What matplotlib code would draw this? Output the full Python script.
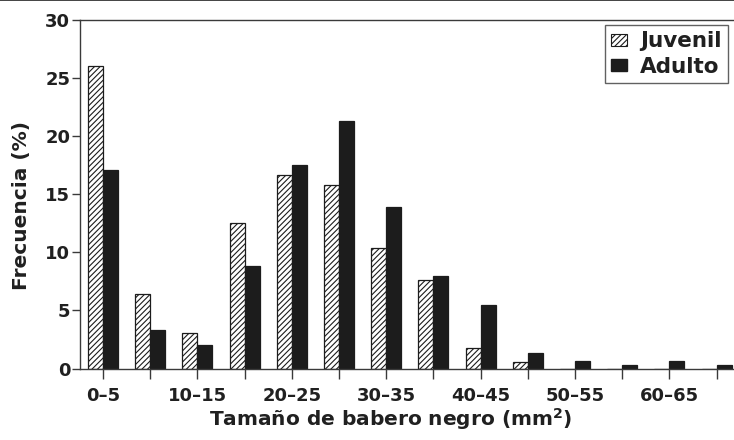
import matplotlib
matplotlib.use("Agg")
import matplotlib.pyplot as plt
from matplotlib.lines import Line2D
from matplotlib.patches import Patch
import numpy as np

plt.rcParams['font.family'] = ['DejaVu Sans']
plt.rcParams['font.weight'] = 'bold'
plt.rcParams['mathtext.default'] = 'bf'
plt.rcParams['hatch.linewidth'] = 0.8

categories = ["0–5", "5–10", "10–15", "15–20", "20–25", "25–30", "30–35",
              "35–40", "40–45", "45–50", "50–55", "55–60", "60–65", "65–70"]
juvenil = [26.0, 6.45, 3.07, 12.5, 16.7, 15.8, 10.4, 7.6, 1.75, 0.55, 0, 0, 0, 0]
adulto = [17.1, 3.33, 2.0, 8.83, 17.5, 21.3, 13.9, 8.0, 5.5, 1.3, 0.65, 0.28, 0.65, 0.28]
yticks = [0, 5, 10, 15, 20, 25, 30]

dark = "#1c1c1c"
axis_col = "#3a3a3a"
text_col = "#202020"
fs_tick = 13
fs_label = 14.5
fs_leg = 15.5

fig = plt.figure(figsize=(7.34, 4.40), dpi=100)
ax = fig.add_axes([80 / 734, 1 - 368.5 / 440, 1 - 80 / 734, (368.5 - 20) / 440])

x = np.arange(len(categories))
w = 0.318
ax.bar(x - w / 2, juvenil, width=w, color="white", edgecolor=dark,
       linewidth=0.9, hatch="//////", label="Juvenil")
ax.bar(x + w / 2, adulto, width=w, color=dark, edgecolor=dark,
       linewidth=0.9, label="Adulto")

ax.set_xlim(-0.487, 13.37)
ax.set_ylim(0, 30)
ax.set_yticks(yticks)
ax.set_xticks(x)
ax.set_xticklabels([c if i % 2 == 0 else "" for i, c in enumerate(categories)])

for s in ("left", "bottom", "top"):
    ax.spines[s].set_color(axis_col)
    ax.spines[s].set_linewidth(1.0)
ax.spines["right"].set_visible(False)

ax.tick_params(axis="x", direction="out", length=7, width=1.0, color=axis_col,
               labelsize=fs_tick, pad=6)
ax.tick_params(axis="y", direction="out", length=6, width=1.0, color=axis_col,
               labelsize=fs_tick, pad=1)
for lbl in ax.get_xticklabels() + ax.get_yticklabels():
    lbl.set_fontweight("bold")
    lbl.set_color(text_col)

ax.set_ylabel("Frecuencia (%)", fontsize=fs_label, fontweight="bold",
              color=text_col)
ax.yaxis.label.set_va("center")
ax.yaxis.set_label_coords((22 - 80) / 654, (368.5 - 205) / 348.5)
ax.set_xlabel("Tamaño de babero negro (mm$^{2}$)", fontsize=fs_label,
              fontweight="bold", color=text_col)
ax.xaxis.label.set_va("center")
ax.xaxis.set_label_coords((391 - 80) / 654, -(419 - 368.5) / 348.5)

handles = [Patch(facecolor="white", edgecolor=dark, hatch="//////", linewidth=0.8),
           Patch(facecolor=dark, edgecolor=dark)]
leg = ax.legend(handles, ["Juvenil", "Adulto"], loc="upper right",
                bbox_to_anchor=(0.991, 0.986), fontsize=fs_leg, frameon=True,
                fancybox=False, edgecolor=axis_col, handlelength=0.75,
                handleheight=0.5, handletextpad=0.6, borderpad=0.3,
                labelspacing=0.25, borderaxespad=0)
leg.get_frame().set_linewidth(1.0)
for t in leg.get_texts():
    t.set_fontweight("bold")
    t.set_color(text_col)

fig.add_artist(Line2D([0, 1], [0.999, 0.999], transform=fig.transFigure,
                      color="#222222", linewidth=1.2))

fig.savefig("out.png", dpi=100)
